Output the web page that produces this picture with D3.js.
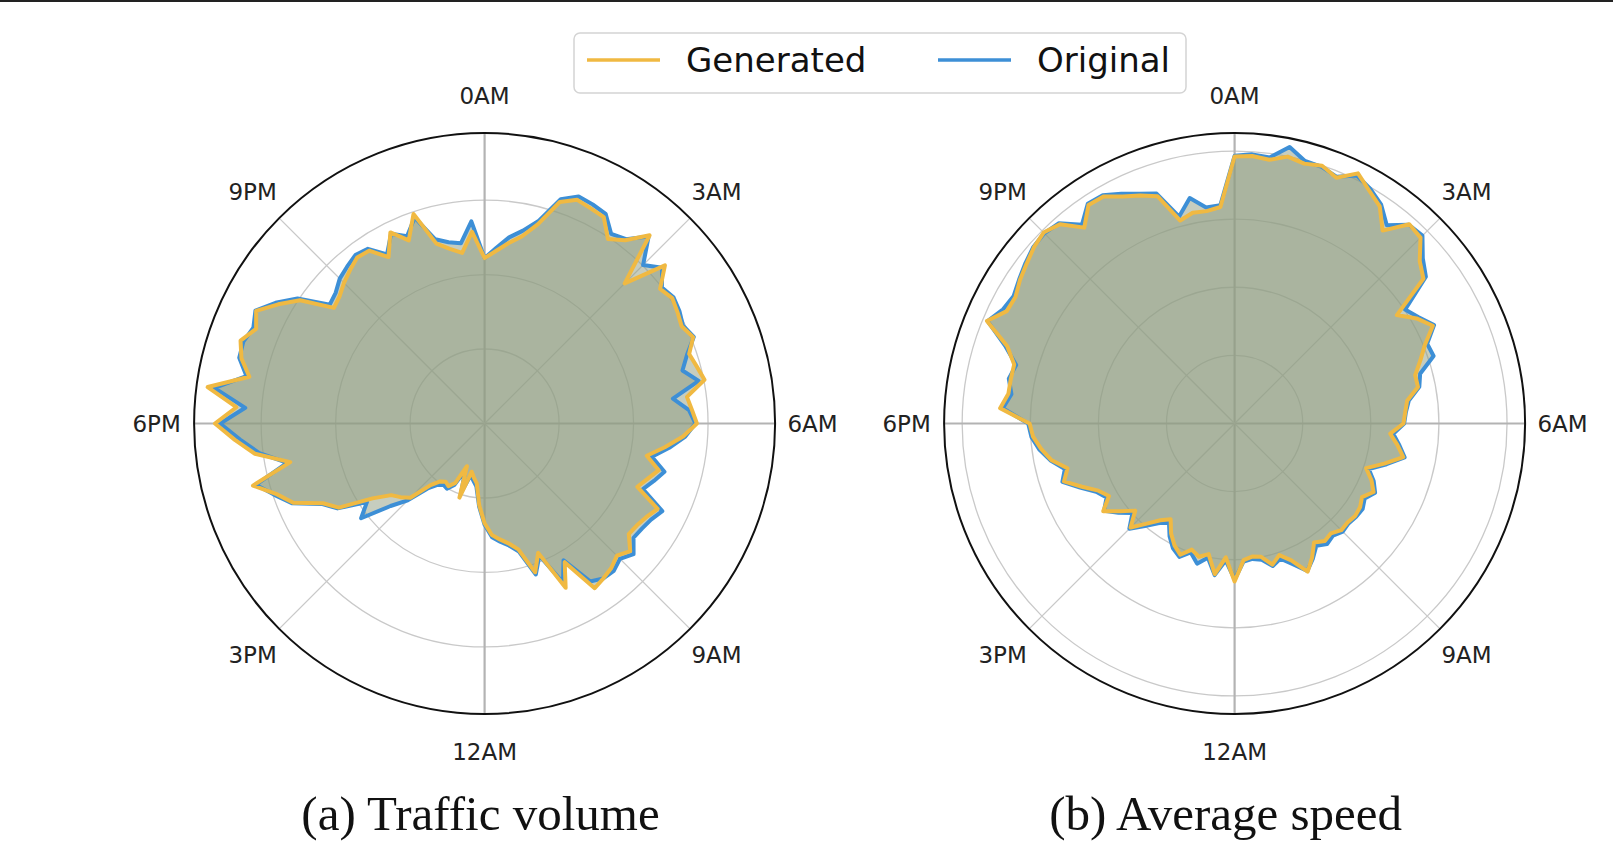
<!DOCTYPE html>
<html>
<head>
<meta charset="utf-8">
<script src="https://cdn.jsdelivr.net/npm/d3@7"></script>
<style>
  body { margin: 0; background: #fff; }
  svg { display: block; }
</style>
</head>
<body>
<svg id="chart" width="1613" height="842"></svg>
<script>
// 15-minute samples over one day (96 per series)
const hourLabels = ["0AM", "3AM", "6AM", "9AM", "12AM", "3PM", "6PM", "9PM"];

const volumeGenerated = [
  222, 232, 244, 256, 277, 314, 325, 322, 320, 298, 310, 336, 266, 322, 297, 303,
  299, 295, 303, 290, 295, 301, 274, 279, 285, 267, 244, 222, 242, 231, 222, 259,
  251, 246, 244, 260, 251, 258, 262, 266, 215, 246, 188, 211, 175, 164, 157, 150,
  134, 110, 81, 74, 67, 105, 62, 89, 97, 94, 98, 110, 141, 150, 158, 181,
  226, 242, 278, 295, 322, 266, 311, 336, 362, 334, 375, 322, 338, 346, 332, 342,
  320, 298, 255, 259, 267, 274, 281, 279, 258, 286, 266, 297, 250, 239, 231, 258
];
const volumeOriginal = [
  222, 236, 252, 264, 282, 318, 330, 328, 325, 306, 312, 334, 301, 317, 300, 305,
  302, 297, 304, 287, 275, 293, 255, 275, 283, 270, 250, 229, 250, 240, 230, 266,
  258, 254, 252, 266, 257, 263, 262, 255, 212, 238, 192, 214, 178, 167, 160, 153,
  136, 112, 85, 78, 72, 98, 68, 92, 101, 99, 104, 116, 146, 168, 209, 190,
  228, 244, 280, 298, 318, 270, 305, 329, 355, 322, 366, 326, 341, 342, 336, 343,
  324, 302, 262, 266, 275, 280, 285, 282, 262, 284, 272, 292, 256, 248, 244, 272
];

const speedGenerated = [
  78.4, 78.7, 78.1, 79.9, 79.0, 79.9, 78.1, 81.9, 79.0, 76.7, 71.4, 77.8, 77.2, 72.3, 69.9, 57.3,
  61.7, 64.9, 60.5, 57.6, 54.9, 54.9, 51.1, 50.2, 49.6, 45.8, 48.2, 50.5, 45.5, 40.8, 43.5, 45.5,
  43.2, 44.3, 44.6, 44.1, 44.3, 42.9, 43.5, 42.0, 45.5, 48.5, 43.5, 40.8, 42.9, 39.9, 39.4, 40.2,
  46.4, 39.4, 44.6, 39.1, 40.5, 39.1, 41.7, 39.9, 37.3, 33.8, 35.8, 39.1, 43.2, 38.8, 42.3, 46.4,
  42.6, 44.6, 48.5, 52.9, 50.8, 54.9, 57.3, 59.3, 60.2, 69.0, 67.0, 67.0, 67.0, 70.5, 78.7, 74.6,
  74.3, 75.8, 77.0, 78.4, 79.3, 77.8, 72.5, 77.2, 77.0, 74.3, 72.5, 70.5, 61.7, 63.1, 62.9, 63.7
];
const speedOriginal = [
  78.6, 79.2, 78.8, 82.8, 79.8, 79.6, 78.4, 81.2, 79.6, 77.4, 73.4, 77.6, 78.0, 73.5, 70.8, 60.2,
  62.4, 65.3, 61.2, 61.7, 56.4, 55.3, 51.6, 50.4, 49.8, 46.7, 48.8, 50.9, 46.2, 41.6, 44.2, 46.0,
  44.1, 45.2, 45.0, 44.5, 44.9, 43.8, 44.6, 43.2, 45.9, 48.3, 44.7, 41.9, 43.3, 40.8, 40.1, 40.6,
  45.8, 40.3, 44.9, 40.2, 42.6, 40.0, 42.4, 40.9, 38.2, 34.7, 36.9, 40.0, 43.7, 39.9, 43.0, 46.1,
  43.4, 45.3, 49.1, 53.4, 51.6, 55.2, 57.9, 59.8, 60.6, 68.2, 66.1, 67.6, 66.4, 71.2, 78.5, 75.8,
  74.9, 76.1, 77.4, 78.6, 79.0, 78.2, 73.6, 77.6, 77.4, 75.2, 73.0, 71.3, 62.9, 67.5, 64.0, 64.2
];

const volumeTicks = [100, 200, 300];
const volumeMax = 390;
const speedTicks = [20, 40, 60, 80];
const speedMax = 85.3;

const colorGenerated = "#f0b942";
const colorOriginal = "#3d8fd6";

const svg = d3.select("#chart");
const radius = 290.5;

// thin dark rule along the top edge
svg.append("rect")
  .attr("x", 0).attr("y", 0)
  .attr("width", 1613).attr("height", 2)
  .attr("fill", "#222");

function drawPolar(cx, cy, generated, original, ticks, maxValue, title, titleX) {
  const g = svg.append("g").attr("transform", `translate(${cx},${cy})`);

  const rScale = d3.scaleLinear().domain([0, maxValue]).range([0, radius]);
  const aScale = d3.scaleLinear().domain([0, generated.length]).range([0, 2 * Math.PI]);

  // radial grid circles
  g.selectAll("circle.grid")
    .data(ticks)
    .join("circle")
    .attr("class", "grid")
    .attr("r", d => rScale(d))
    .attr("fill", "none")
    .attr("stroke", "#c9c9c9")
    .attr("stroke-width", 1.3);

  // spokes every 3 hours
  const spokeAngles = d3.range(8).map(k => k * Math.PI / 4);
  g.selectAll("line.spoke")
    .data(spokeAngles)
    .join("line")
    .attr("class", "spoke")
    .attr("x1", 0).attr("y1", 0)
    .attr("x2", a => radius * Math.sin(a))
    .attr("y2", a => -radius * Math.cos(a))
    .attr("stroke", (a, k) => k % 2 === 0 ? "#b3b3b3" : "#c9c9c9")
    .attr("stroke-width", (a, k) => k % 2 === 0 ? 2.2 : 1.3);

  const line = d3.lineRadial()
    .angle((d, i) => aScale(i))
    .radius(d => rScale(d))
    .curve(d3.curveLinearClosed);

  [original, generated].forEach(series => {
    g.append("path")
      .attr("d", line(series))
      .attr("fill", "rgb(142,156,127)")
      .attr("fill-opacity", 0.5)
      .attr("stroke", "none");
  });

  g.append("path")
    .attr("d", line(original))
    .attr("fill", "none")
    .attr("stroke", colorOriginal)
    .attr("stroke-width", 4)
    .attr("stroke-linejoin", "round");

  g.append("path")
    .attr("d", line(generated))
    .attr("fill", "none")
    .attr("stroke", colorGenerated)
    .attr("stroke-width", 4)
    .attr("stroke-linejoin", "round");

  // outer frame
  g.append("circle")
    .attr("r", radius)
    .attr("fill", "none")
    .attr("stroke", "#111")
    .attr("stroke-width", 2);

  // hour labels
  const labelR = 328;
  g.selectAll("text.hour")
    .data(hourLabels)
    .join("text")
    .attr("class", "hour")
    .attr("x", (d, k) => labelR * Math.sin(k * Math.PI / 4))
    .attr("y", (d, k) => -labelR * Math.cos(k * Math.PI / 4))
    .attr("text-anchor", "middle")
    .attr("dominant-baseline", "central")
    .attr("font-family", "DejaVu Sans, sans-serif")
    .attr("font-size", 23)
    .attr("fill", "#222")
    .text(d => d);

  svg.append("text")
    .attr("x", titleX)
    .attr("y", 830)
    .attr("text-anchor", "middle")
    .attr("font-family", "Liberation Serif, Times New Roman, serif")
    .attr("font-size", 49)
    .attr("fill", "#111")
    .text(title);
}

drawPolar(484.6, 423.5, volumeGenerated, volumeOriginal, volumeTicks, volumeMax, "(a) Traffic volume", 480.5);
drawPolar(1234.6, 423.5, speedGenerated, speedOriginal, speedTicks, speedMax, "(b) Average speed", 1225.7);

// legend
const legend = svg.append("g");
legend.append("rect")
  .attr("x", 574).attr("y", 33)
  .attr("width", 612).attr("height", 60)
  .attr("rx", 6)
  .attr("fill", "#fff")
  .attr("stroke", "#d4d4d4")
  .attr("stroke-width", 1.5);

const legendItems = [
  { label: "Generated", color: colorGenerated, x: 587 },
  { label: "Original", color: colorOriginal, x: 938 }
];
legendItems.forEach(item => {
  legend.append("line")
    .attr("x1", item.x).attr("x2", item.x + 73)
    .attr("y1", 60).attr("y2", 60)
    .attr("stroke", item.color)
    .attr("stroke-width", 3.5);
  legend.append("text")
    .attr("x", item.x + 99)
    .attr("y", 60)
    .attr("dominant-baseline", "central")
    .attr("font-family", "DejaVu Sans, sans-serif")
    .attr("font-size", 34)
    .attr("fill", "#111")
    .text(item.label);
});
</script>
</body>
</html>
